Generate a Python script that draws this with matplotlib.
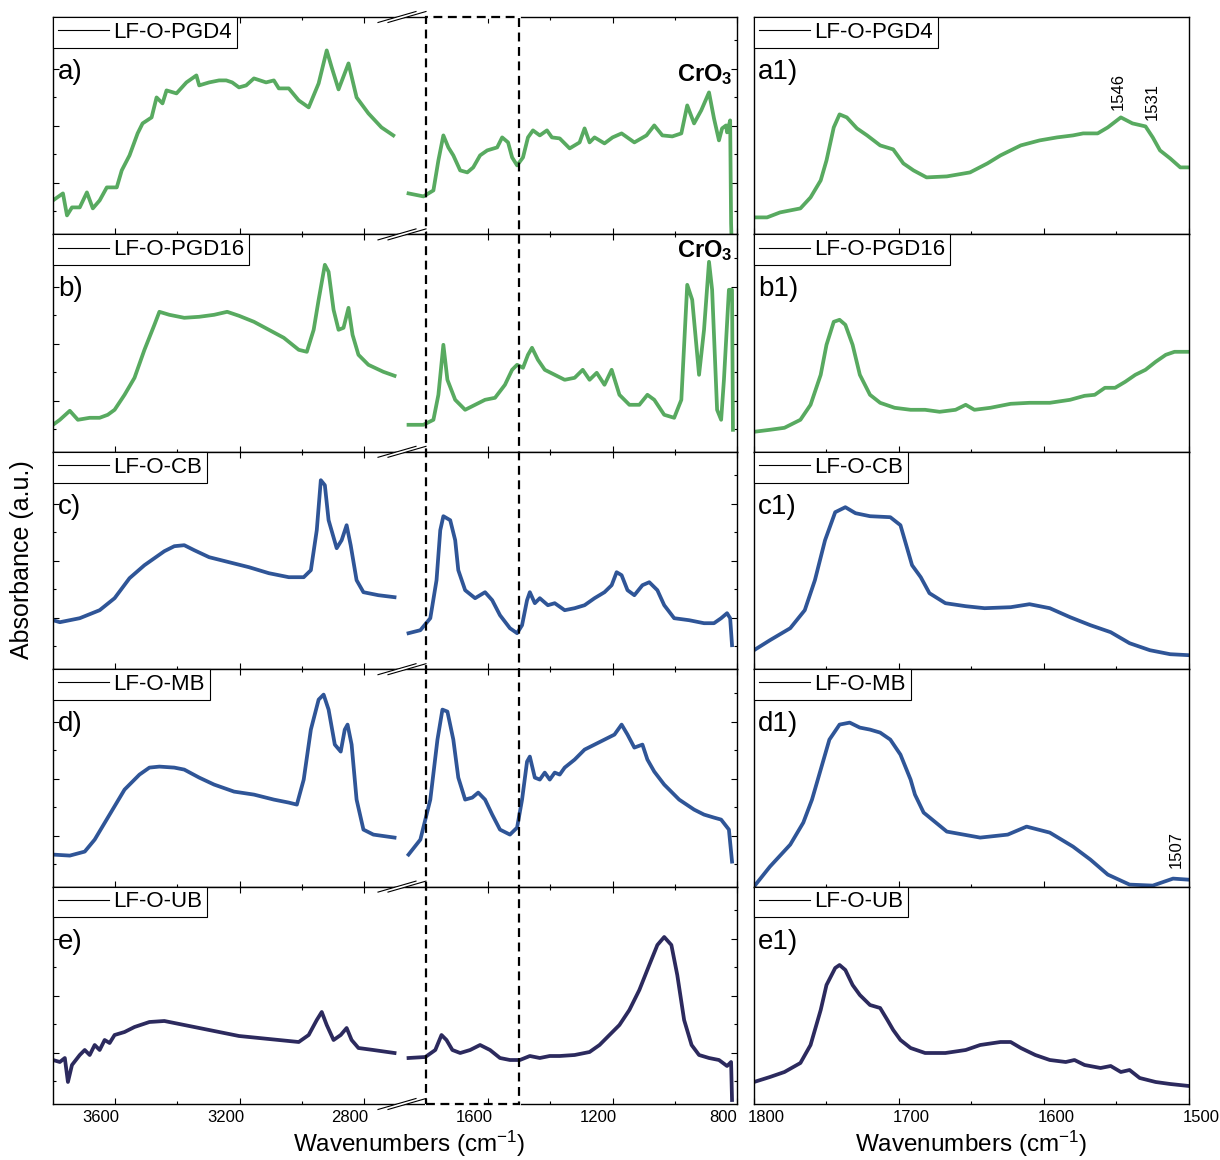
import matplotlib
matplotlib.use("Agg")
import matplotlib.pyplot as plt
import matplotlib.transforms as mtransforms
from matplotlib.lines import Line2D
from matplotlib.patches import Rectangle, Polygon
from matplotlib.ticker import FixedLocator

plt.rcParams['font.family'] = ['Liberation Sans', 'DejaVu Sans']
plt.rcParams['mathtext.fontset'] = 'custom'
plt.rcParams['mathtext.rm'] = 'Liberation Sans'
plt.rcParams['mathtext.it'] = 'Liberation Sans:italic'
plt.rcParams['mathtext.bf'] = 'Liberation Sans:bold'

GREEN = '#58aa60'
BLUE = '#2f5597'
NAVY = '#2c2a5e'

names = ['LF-O-PGD4', 'LF-O-PGD16', 'LF-O-CB', 'LF-O-MB', 'LF-O-UB']
tags = ['a', 'b', 'c', 'd', 'e']
colors = [GREEN, GREEN, BLUE, BLUE, NAVY]

# (wavenumber, absorbance) -- high wavenumber region 3800-2700
pgd4_hi = [(3800, 0.34), (3768, 0.41), (3755, 0.19), (3739, 0.27), (3714, 0.27), (3691, 0.42), (3672, 0.26),
           (3650, 0.34), (3627, 0.47), (3595, 0.47), (3579, 0.64), (3554, 0.79), (3528, 1.01), (3512, 1.11),
           (3483, 1.17), (3467, 1.37), (3448, 1.31), (3435, 1.44), (3403, 1.41), (3371, 1.52), (3339, 1.59),
           (3330, 1.49), (3298, 1.52), (3266, 1.54), (3243, 1.54), (3224, 1.52), (3202, 1.47), (3179, 1.49),
           (3154, 1.56), (3115, 1.52), (3090, 1.54), (3074, 1.46), (3042, 1.46), (3010, 1.34), (2978, 1.27),
           (2946, 1.51), (2920, 1.84), (2904, 1.67), (2882, 1.45), (2850, 1.71), (2824, 1.37), (2786, 1.21),
           (2744, 1.07), (2706, 0.99)]
pgd16_hi = [(3800, 0.27), (3778, 0.32), (3746, 0.41), (3720, 0.32), (3682, 0.34), (3650, 0.34), (3624, 0.37),
            (3602, 0.42), (3570, 0.57), (3538, 0.74), (3506, 1.02), (3474, 1.27), (3458, 1.40), (3426, 1.37),
            (3378, 1.34), (3330, 1.35), (3282, 1.37), (3240, 1.40), (3202, 1.36), (3154, 1.30), (3106, 1.22),
            (3058, 1.14), (3010, 1.02), (2984, 1.00), (2962, 1.22), (2946, 1.52), (2926, 1.87), (2914, 1.80),
            (2898, 1.42), (2882, 1.22), (2866, 1.24), (2850, 1.44), (2837, 1.17), (2818, 0.97), (2786, 0.87),
            (2738, 0.80), (2702, 0.76)]
cb_hi = [(3800, 0.49), (3778, 0.47), (3714, 0.51), (3650, 0.59), (3602, 0.71), (3554, 0.91), (3506, 1.04),
         (3474, 1.11), (3442, 1.18), (3410, 1.23), (3378, 1.24), (3346, 1.19), (3298, 1.12), (3234, 1.07),
         (3170, 1.02), (3106, 0.96), (3042, 0.92), (2994, 0.92), (2971, 0.99), (2952, 1.39), (2939, 1.89),
         (2926, 1.84), (2914, 1.49), (2888, 1.21), (2872, 1.29), (2856, 1.44), (2843, 1.24), (2824, 0.89),
         (2802, 0.77), (2754, 0.74), (2702, 0.72)]
mb_hi = [(3800, 0.32), (3746, 0.31), (3698, 0.35), (3666, 0.47), (3618, 0.72), (3570, 0.97), (3522, 1.12),
         (3490, 1.19), (3458, 1.20), (3410, 1.19), (3378, 1.17), (3330, 1.09), (3282, 1.02), (3218, 0.95),
         (3154, 0.92), (3090, 0.87), (3042, 0.84), (3016, 0.82), (2994, 1.07), (2971, 1.57), (2946, 1.87),
         (2930, 1.92), (2914, 1.77), (2894, 1.42), (2875, 1.35), (2862, 1.57), (2853, 1.62), (2840, 1.42),
         (2824, 0.87), (2802, 0.57), (2770, 0.52), (2702, 0.49)]
ub_hi = [(3800, 0.44), (3778, 0.42), (3762, 0.46), (3752, 0.22), (3739, 0.39), (3714, 0.49), (3698, 0.54),
         (3682, 0.49), (3666, 0.59), (3650, 0.54), (3634, 0.64), (3618, 0.61), (3602, 0.69), (3570, 0.72),
         (3538, 0.77), (3490, 0.82), (3442, 0.83), (3394, 0.80), (3330, 0.76), (3266, 0.72), (3202, 0.68),
         (3138, 0.66), (3074, 0.64), (3010, 0.62), (2978, 0.69), (2952, 0.84), (2936, 0.92), (2920, 0.79),
         (2898, 0.64), (2875, 0.69), (2856, 0.76), (2840, 0.64), (2818, 0.56), (2770, 0.54), (2702, 0.51)]

# fingerprint region 1860-815
pgd4_lo = [(1856, 0.41), (1808, 0.38), (1776, 0.44), (1760, 0.74), (1744, 0.99), (1728, 0.87), (1712, 0.79),
           (1690, 0.64), (1667, 0.62), (1648, 0.67), (1626, 0.79), (1603, 0.84), (1571, 0.87), (1555, 0.97),
           (1536, 0.92), (1523, 0.77), (1507, 0.69), (1488, 0.77), (1472, 0.97), (1456, 1.04), (1434, 0.99),
           (1411, 1.04), (1395, 0.97), (1370, 0.96), (1338, 0.86), (1306, 0.92), (1290, 1.06), (1274, 0.92),
           (1258, 0.97), (1226, 0.91), (1200, 0.97), (1171, 1.01), (1130, 0.92), (1091, 0.99), (1066, 1.09),
           (1040, 0.99), (1008, 0.98), (979, 1.01), (960, 1.29), (938, 1.11), (915, 1.24), (890, 1.42),
           (874, 1.16), (858, 0.94), (848, 1.06), (835, 1.09), (832, 1.02), (822, 1.14), (819, 0.11), (816, -0.2)]
pgd16_lo = [(1856, 0.27), (1808, 0.27), (1776, 0.32), (1760, 0.57), (1744, 1.07), (1731, 0.72), (1706, 0.52),
            (1674, 0.42), (1642, 0.47), (1610, 0.52), (1578, 0.54), (1546, 0.67), (1523, 0.82), (1507, 0.87),
            (1488, 0.84), (1472, 0.97), (1459, 1.04), (1440, 0.92), (1418, 0.82), (1386, 0.77), (1354, 0.72),
            (1322, 0.74), (1296, 0.82), (1274, 0.72), (1251, 0.79), (1226, 0.67), (1203, 0.82), (1178, 0.57),
            (1146, 0.47), (1114, 0.47), (1088, 0.57), (1066, 0.52), (1034, 0.37), (1002, 0.34), (979, 0.52),
            (960, 1.67), (944, 1.52), (922, 0.77), (906, 1.22), (890, 1.90), (880, 1.62), (864, 0.42),
            (851, 0.32), (842, 0.72), (826, 1.62), (816, 1.62), (813, 0.22)]
cb_lo = [(1856, 0.36), (1818, 0.39), (1786, 0.51), (1766, 0.89), (1754, 1.39), (1744, 1.53), (1722, 1.49),
         (1706, 1.29), (1696, 0.99), (1674, 0.79), (1642, 0.71), (1610, 0.77), (1587, 0.69), (1562, 0.54),
         (1530, 0.41), (1507, 0.36), (1491, 0.44), (1475, 0.69), (1466, 0.77), (1450, 0.66), (1434, 0.71),
         (1408, 0.64), (1386, 0.66), (1354, 0.59), (1322, 0.61), (1290, 0.64), (1258, 0.71), (1226, 0.77),
         (1203, 0.84), (1187, 0.97), (1171, 0.94), (1152, 0.79), (1130, 0.74), (1104, 0.84), (1082, 0.87),
         (1056, 0.79), (1034, 0.64), (1002, 0.51), (954, 0.49), (906, 0.46), (874, 0.46), (851, 0.51),
         (832, 0.56), (822, 0.51), (816, 0.24)]
mb_lo = [(1856, 0.32), (1818, 0.47), (1786, 0.87), (1763, 1.47), (1747, 1.77), (1731, 1.75), (1712, 1.47),
         (1696, 1.09), (1674, 0.87), (1651, 0.89), (1632, 0.94), (1610, 0.87), (1587, 0.72), (1562, 0.57),
         (1530, 0.52), (1507, 0.59), (1491, 0.87), (1475, 1.25), (1466, 1.30), (1450, 1.09), (1434, 1.07),
         (1418, 1.14), (1402, 1.07), (1386, 1.14), (1370, 1.12), (1354, 1.19), (1322, 1.27), (1290, 1.37),
         (1258, 1.42), (1226, 1.47), (1194, 1.52), (1171, 1.62), (1152, 1.52), (1130, 1.39), (1104, 1.42),
         (1088, 1.27), (1066, 1.15), (1034, 1.02), (986, 0.87), (938, 0.77), (906, 0.72), (874, 0.69),
         (851, 0.67), (826, 0.57), (816, 0.25)]
ub_lo = [(1856, 0.46), (1802, 0.47), (1770, 0.54), (1750, 0.69), (1734, 0.64), (1715, 0.54), (1690, 0.51),
         (1658, 0.54), (1626, 0.59), (1594, 0.54), (1562, 0.46), (1530, 0.44), (1498, 0.44), (1466, 0.48),
         (1434, 0.46), (1402, 0.48), (1370, 0.48), (1322, 0.49), (1274, 0.52), (1242, 0.59), (1210, 0.69),
         (1178, 0.79), (1146, 0.94), (1114, 1.14), (1082, 1.39), (1056, 1.59), (1034, 1.67), (1011, 1.59),
         (992, 1.29), (970, 0.84), (946, 0.59), (922, 0.49), (890, 0.46), (858, 0.44), (832, 0.38),
         (819, 0.42), (816, 0.04)]

# expanded 1800-1500 region
pgd4_zoom = [(1800, 0.17), (1791, 0.17), (1782, 0.22), (1768, 0.26), (1761, 0.37), (1754, 0.54), (1750, 0.74),
             (1745, 1.07), (1741, 1.20), (1736, 1.17), (1729, 1.06), (1722, 0.99), (1713, 0.89), (1704, 0.85),
             (1697, 0.71), (1690, 0.64), (1681, 0.57), (1667, 0.58), (1651, 0.62), (1639, 0.71), (1630, 0.79),
             (1616, 0.89), (1603, 0.94), (1591, 0.97), (1580, 0.99), (1573, 1.01), (1563, 1.01), (1556, 1.07),
             (1547, 1.17), (1539, 1.11), (1530, 1.08), (1525, 0.97), (1520, 0.84), (1513, 0.76), (1506, 0.67),
             (1500, 0.67)]
pgd16_zoom = [(1800, 0.20), (1789, 0.22), (1779, 0.24), (1768, 0.32), (1761, 0.47), (1754, 0.77), (1750, 1.07),
              (1745, 1.30), (1741, 1.32), (1737, 1.27), (1732, 1.07), (1727, 0.77), (1720, 0.57), (1713, 0.49),
              (1703, 0.44), (1692, 0.42), (1682, 0.42), (1672, 0.40), (1661, 0.42), (1654, 0.47), (1648, 0.42),
              (1637, 0.44), (1623, 0.48), (1610, 0.49), (1596, 0.49), (1582, 0.52), (1572, 0.56), (1565, 0.57),
              (1558, 0.64), (1551, 0.64), (1544, 0.70), (1537, 0.77), (1530, 0.82), (1523, 0.90), (1516, 0.97),
              (1510, 1.00), (1500, 1.00)]
cb_zoom = [(1800, 0.19), (1789, 0.29), (1775, 0.41), (1765, 0.59), (1758, 0.89), (1751, 1.29), (1744, 1.57),
           (1737, 1.62), (1730, 1.56), (1720, 1.53), (1706, 1.52), (1699, 1.44), (1696, 1.29), (1691, 1.04),
           (1685, 0.92), (1679, 0.76), (1668, 0.66), (1654, 0.63), (1641, 0.61), (1623, 0.62), (1610, 0.65),
           (1596, 0.61), (1582, 0.52), (1568, 0.44), (1554, 0.37), (1541, 0.26), (1527, 0.19), (1513, 0.15),
           (1500, 0.14)]
mb_zoom = [(1800, 0.00), (1789, 0.20), (1775, 0.42), (1766, 0.64), (1760, 0.87), (1754, 1.17), (1748, 1.47),
           (1741, 1.62), (1734, 1.64), (1727, 1.59), (1720, 1.57), (1713, 1.54), (1706, 1.47), (1699, 1.32),
           (1692, 1.07), (1689, 0.92), (1683, 0.74), (1667, 0.55), (1644, 0.49), (1625, 0.52), (1612, 0.60),
           (1596, 0.54), (1580, 0.40), (1568, 0.27), (1556, 0.12), (1541, 0.02), (1525, 0.01), (1511, 0.08),
           (1501, 0.07)]
ub_zoom = [(1800, 0.22), (1789, 0.27), (1779, 0.32), (1768, 0.41), (1761, 0.59), (1754, 0.94), (1750, 1.19),
           (1744, 1.36), (1741, 1.39), (1737, 1.34), (1732, 1.19), (1727, 1.09), (1720, 0.99), (1713, 0.96),
           (1708, 0.84), (1704, 0.74), (1699, 0.64), (1692, 0.56), (1682, 0.51), (1668, 0.51), (1654, 0.54),
           (1644, 0.59), (1630, 0.62), (1623, 0.62), (1616, 0.56), (1606, 0.49), (1596, 0.44), (1585, 0.42),
           (1579, 0.44), (1572, 0.39), (1561, 0.36), (1554, 0.38), (1547, 0.32), (1541, 0.34), (1534, 0.26),
           (1523, 0.22), (1513, 0.20), (1500, 0.18)]

hi_data = [pgd4_hi, pgd16_hi, cb_hi, mb_hi, ub_hi]
lo_data = [pgd4_lo, pgd16_lo, cb_lo, mb_lo, ub_lo]
zoom_data = [pgd4_zoom, pgd16_zoom, cb_zoom, mb_zoom, ub_zoom]

# peak labels in the expanded panels: (row, wavenumber, y position)
peak_marks = [(0, 1549, 1.24, '1546'), (0, 1525, 1.14, '1531'), (3, 1509, 0.19, '1507')]

W, H = 1220, 1160
TOP, BOTTOM = 17, 1104
ROW_H = (BOTTOM - TOP) / 5
X0, XBRK, X1 = 53, 402, 737
ZX0, ZX1 = 754, 1189
YMAX = 2.174

fig = plt.figure(figsize=(W / 100, H / 100), dpi=100)


def box(x0, x1, y0, y1):
  return [x0 / W, 1 - y1 / H, (x1 - x0) / W, (y1 - y0) / H]


def unzip(pairs):
  return [p[0] for p in pairs], [p[1] for p in pairs]


left_shift = mtransforms.ScaledTranslation(-14 / 100, 0, fig.dpi_scale_trans)
right_shift = mtransforms.ScaledTranslation(12 / 100, 0, fig.dpi_scale_trans)

y_major = [0.51, 1.08, 1.65]
y_minor = [0.23, 0.80, 1.37, 1.94]

axes_hi, axes_lo, axes_zoom = [], [], []
for i in range(5):
  y0 = TOP + i * ROW_H
  y1 = y0 + ROW_H
  ax_h = fig.add_axes(box(X0, XBRK, y0, y1))
  ax_l = fig.add_axes(box(XBRK, X1, y0, y1))
  ax_z = fig.add_axes(box(ZX0, ZX1, y0, y1))

  wn, ab = unzip(hi_data[i])
  ax_h.plot(wn, ab, color=colors[i], lw=2.7, solid_joinstyle='round')
  wn, ab = unzip(lo_data[i])
  ax_l.plot(wn, ab, color=colors[i], lw=2.7, solid_joinstyle='round')
  wn, ab = unzip(zoom_data[i])
  ax_z.plot(wn, ab, color=colors[i], lw=2.7, solid_joinstyle='round')

  ax_h.set_xlim(3800, 2678)
  ax_l.set_xlim(1877, 800)
  ax_z.set_xlim(1800, 1500)
  for ax in (ax_h, ax_l, ax_z):
    ax.set_ylim(0, YMAX)
    for s in ax.spines.values():
      s.set_linewidth(1.0)
      s.set_color('black')
    ax.tick_params(which='both', direction='in', width=0.8, labelsize=12, pad=4)
    ax.tick_params(which='major', length=4)
    ax.tick_params(which='minor', length=2.4)

  ax_h.spines['right'].set_visible(False)
  ax_l.spines['left'].set_visible(False)

  ax_h.xaxis.set_major_locator(FixedLocator([3600, 3200, 2800]))
  ax_h.xaxis.set_minor_locator(FixedLocator([3400, 3000]))
  ax_l.xaxis.set_major_locator(FixedLocator([1600, 1200, 800]))
  ax_l.xaxis.set_minor_locator(FixedLocator([1800, 1400, 1000]))
  ax_z.xaxis.set_major_locator(FixedLocator([1800, 1700, 1600, 1500]))
  ax_z.xaxis.set_minor_locator(FixedLocator([1750, 1650, 1550]))

  for ax in (ax_h, ax_l):
    ax.yaxis.set_major_locator(FixedLocator(y_major))
    ax.yaxis.set_minor_locator(FixedLocator(y_minor))
    ax.tick_params(axis='x', which='both', top=True, bottom=True)
  ax_h.tick_params(axis='y', which='both', left=True, right=False, labelleft=False)
  ax_l.tick_params(axis='y', which='both', left=False, right=True, labelleft=False)
  ax_z.set_yticks([])
  ax_z.tick_params(axis='x', which='both', top=False, bottom=True)

  if i < 4:
    for ax in (ax_h, ax_l, ax_z):
      ax.tick_params(axis='x', labelbottom=False)

  # legend with a plain black sample line
  handle = Line2D([], [], color='black', lw=0.8)
  for ax in (ax_h, ax_z):
    leg = ax.legend([handle], [names[i]], loc='upper left', bbox_to_anchor=(0, 1), borderaxespad=0,
                    fancybox=False, edgecolor='black', framealpha=1, fontsize=16, handlelength=2.3,
                    handletextpad=0.2, borderpad=0.22)
    leg.get_frame().set_linewidth(0.8)

  ax_h.text(0.014, 0.747, tags[i] + ')', transform=ax_h.transAxes, fontsize=20, va='center', ha='left')
  ax_z.text(0.009, 0.747, tags[i] + '1)', transform=ax_z.transAxes, fontsize=20, va='center', ha='left')

  axes_hi.append(ax_h)
  axes_lo.append(ax_l)
  axes_zoom.append(ax_z)

# CrO3 bands in the PGD spectra
axes_lo[0].text(0.988, 0.733, r'CrO$_\mathbf{3}$', transform=axes_lo[0].transAxes, fontsize=17,
                fontweight='bold', ha='right', va='center')
axes_lo[1].text(0.988, 0.928, r'CrO$_\mathbf{3}$', transform=axes_lo[1].transAxes, fontsize=17,
                fontweight='bold', ha='right', va='center')

for row, wn, yv, txt in peak_marks:
  axes_zoom[row].text(wn, yv, txt, rotation=90, fontsize=12, ha='center', va='bottom')

# tick labels sit slightly off their ticks
fig.canvas.draw()
for ax in (axes_hi[4], axes_lo[4]):
  for lab in ax.get_xticklabels():
    lab.set_transform(lab.get_transform() + left_shift)
for lab in axes_zoom[4].get_xticklabels():
  lab.set_transform(lab.get_transform() + right_shift)

# axis break marks on every horizontal spine
for k in range(6):
  cy = TOP + k * ROW_H
  mask = Polygon([((XBRK - 24) / W, 1 - (cy + 5.5) / H), ((XBRK + 14) / W, 1 - (cy - 5.5) / H),
                  ((XBRK + 24) / W, 1 - (cy - 5.5) / H), ((XBRK - 14) / W, 1 - (cy + 5.5) / H)],
                 closed=True, transform=fig.transFigure, facecolor='white', edgecolor='none', zorder=8)
  fig.add_artist(mask)
  for dx in (-24, -14):
    fig.add_artist(Line2D([(XBRK + dx) / W, (XBRK + dx + 38) / W], [1 - (cy + 5.5) / H, 1 - (cy - 5.5) / H],
                          transform=fig.transFigure, color='black', lw=0.8, zorder=9))

# dashed frame marking the expanded 1800-1500 window
trans = mtransforms.blended_transform_factory(axes_lo[4].transData, fig.transFigure)
yb, yt = 1 - BOTTOM / H, 1 - TOP / H
for yy in (yb, yt):
  fig.add_artist(Line2D([1800, 1500], [yy, yy], transform=trans, color='white', lw=2.0, zorder=6))
fig.add_artist(Rectangle((1800, yb), -300, yt - yb, transform=trans, fill=False, edgecolor='black',
                         lw=1.6, ls=(0, (4, 2.5)), zorder=7))

fig.text(22 / W, 1 - 560 / H, 'Absorbance (a.u.)', rotation=90, fontsize=18, ha='center', va='center')
fig.text(409 / W, 1 - 1144 / H, r'Wavenumbers (cm$^{-1}$)', fontsize=17.5, ha='center', va='center')
fig.text(971 / W, 1 - 1144 / H, r'Wavenumbers (cm$^{-1}$)', fontsize=17.5, ha='center', va='center')

fig.savefig('out.png', dpi=100)
